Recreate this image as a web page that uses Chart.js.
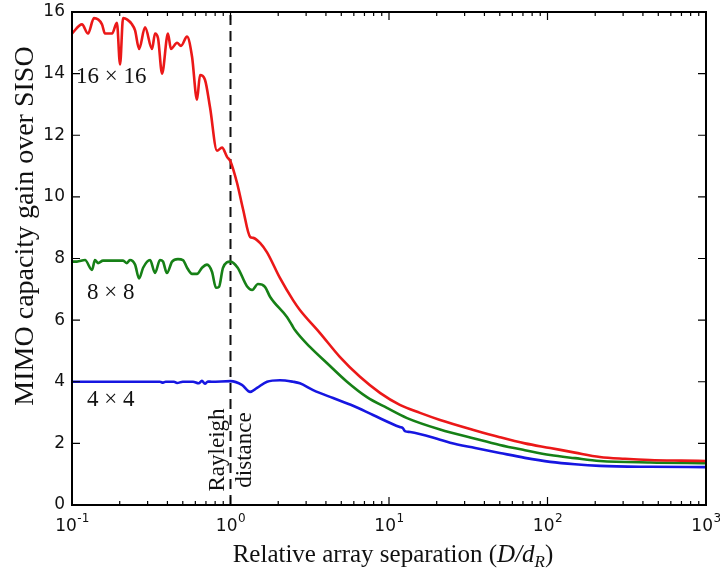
<!DOCTYPE html>
<html>
<head>
<meta charset="utf-8">
<script src="https://cdn.jsdelivr.net/npm/chart.js@4"></script>
<style>
  html, body { margin: 0; padding: 0; background: #fff; }
</style>
</head>
<body>
<canvas id="chart" width="720" height="572"></canvas>
<script>
// values
const redX = [0.1, 0.1156, 0.1262, 0.1376, 0.1546, 0.1615, 0.179, 0.192, 0.201, 0.210, 0.239, 0.250, 0.265, 0.289, 0.320, 0.334, 0.349, 0.370, 0.403, 0.421, 0.460, 0.487, 0.532, 0.572, 0.615, 0.642, 0.690, 0.743, 0.822, 0.884, 0.951, 1.0, 1.10, 1.20, 1.33, 1.39, 1.54, 1.70, 2.05, 2.48, 2.74, 3.67, 4.91, 6.56, 8.77, 11.7, 15.7, 21, 35, 50, 72, 104, 149, 214, 308, 443, 695, 1000];
const redY = [15.3, 15.6, 15.3, 15.8, 15.6, 15.3, 15.3, 15.65, 14.3, 15.8, 15.6, 15.4, 14.8, 15.5, 14.8, 15.3, 15.15, 14.0, 15.3, 14.8, 15.0, 14.9, 15.2, 14.55, 13.15, 13.95, 13.8, 12.9, 11.5, 11.6, 11.3, 11.15, 10.45, 9.6, 8.7, 8.67, 8.5, 8.2, 7.37, 6.65, 6.33, 5.58, 4.8, 4.16, 3.64, 3.25, 2.99, 2.76, 2.42, 2.2, 2.0, 1.85, 1.7, 1.56, 1.5, 1.46, 1.44, 1.43];

const greenX = [0.1, 0.1075, 0.1208, 0.1337, 0.1396, 0.1459, 0.157, 0.210, 0.222, 0.232, 0.250, 0.265, 0.281, 0.311, 0.334, 0.359, 0.375, 0.397, 0.428, 0.466, 0.501, 0.532, 0.572, 0.615, 0.661, 0.711, 0.764, 0.810, 0.846, 0.897, 1.0, 1.11, 1.27, 1.37, 1.49, 1.65, 1.78, 2.27, 2.44, 2.55, 3.17, 4.07, 5.43, 7.26, 9.7, 13.0, 21, 35, 50, 72, 104, 149, 214, 443, 1000];
const greenY = [7.9, 7.9, 7.95, 7.63, 7.95, 7.85, 7.93, 7.93, 7.85, 7.95, 7.8, 7.35, 7.7, 7.95, 7.53, 7.95, 7.9, 7.53, 7.9, 7.98, 7.95, 7.7, 7.5, 7.5, 7.7, 7.8, 7.57, 7.05, 7.08, 7.7, 7.9, 7.7, 7.1, 6.98, 7.17, 7.08, 6.75, 6.1, 5.84, 5.68, 5.13, 4.6, 4.0, 3.5, 3.15, 2.82, 2.45, 2.15, 1.95, 1.78, 1.62, 1.52, 1.43, 1.38, 1.36];

const blueX = [0.1, 0.3, 0.359, 0.375, 0.39, 0.44, 0.46, 0.5, 0.58, 0.63, 0.66, 0.69, 0.72, 0.76, 1.0, 1.18, 1.33, 1.47, 1.70, 2.05, 2.48, 2.74, 3.32, 4.44, 5.93, 7.93, 11.7, 12.2, 12.6, 13.6, 21, 24.3, 35, 50, 72, 104, 149, 214, 443, 1000];
const blueY = [4.0, 4.0, 4.0, 3.97, 4.0, 4.0, 3.96, 4.0, 4.0, 3.95, 4.03, 3.94, 4.01, 4.0, 4.02, 3.9, 3.67, 3.8, 4.0, 4.05, 4.0, 3.95, 3.73, 3.47, 3.22, 2.92, 2.53, 2.5, 2.4, 2.37, 2.12, 2.02, 1.85, 1.69, 1.53, 1.4, 1.32, 1.27, 1.24, 1.23];

const rayleighX = [1, 1];
const rayleighY = [0, 16];

const yTicks = [0, 2, 4, 6, 8, 10, 12, 14, 16];
const xTickExps = [-1, 0, 1, 2, 3];
const seriesLabels = ['16 \u00d7 16', '8 \u00d7 8', '4 \u00d7 4'];

function pts(xs, ys) {
  return xs.map((x, i) => ({ x: x, y: ys[i] }));
}

const SERIF = '"Liberation Serif", "Times New Roman", serif';
const SANS = '"DejaVu Sans", sans-serif';

// axes, ticks and text drawn matplotlib-style on top of the plot
const decorations = {
  id: 'decorations',
  afterDatasetsDraw(chart) {
    const ctx = chart.ctx;
    const a = chart.chartArea;
    const xs = chart.scales.x, ys = chart.scales.y;
    ctx.save();
    ctx.strokeStyle = '#000';
    ctx.fillStyle = '#111';

    // inward ticks
    ctx.lineWidth = 1.2;
    ctx.beginPath();
    yTicks.forEach(v => {
      const p = ys.getPixelForValue(v);
      ctx.moveTo(a.left, p); ctx.lineTo(a.left + 8, p);
      ctx.moveTo(a.right, p); ctx.lineTo(a.right - 8, p);
    });
    for (let k = xTickExps[0]; k < xTickExps[xTickExps.length - 1]; k++) {
      for (let m = 1; m <= 9; m++) {
        const p = xs.getPixelForValue(m * Math.pow(10, k));
        const len = m === 1 ? 8 : 4;
        ctx.moveTo(p, a.bottom); ctx.lineTo(p, a.bottom - len);
        ctx.moveTo(p, a.top); ctx.lineTo(p, a.top + len);
      }
    }
    ctx.stroke();

    // frame
    ctx.lineWidth = 2;
    ctx.strokeRect(a.left, a.top, a.right - a.left, a.bottom - a.top);

    // y tick labels
    ctx.font = '17px ' + SANS;
    ctx.textAlign = 'right';
    ctx.textBaseline = 'middle';
    yTicks.forEach(v => ctx.fillText(String(v), a.left - 7, ys.getPixelForValue(v)));

    // x tick labels 10^k
    ctx.textBaseline = 'alphabetic';
    ctx.textAlign = 'left';
    xTickExps.forEach(k => {
      const p = xs.getPixelForValue(Math.pow(10, k));
      ctx.font = '17px ' + SANS;
      const wb = ctx.measureText('10').width;
      ctx.font = '12px ' + SANS;
      const sup = String(k);
      const ws = ctx.measureText(sup).width;
      const x0 = p - (wb + ws) / 2;
      ctx.font = '17px ' + SANS;
      ctx.fillText('10', x0, a.bottom + 26);
      ctx.font = '12px ' + SANS;
      ctx.fillText(sup, x0 + wb + 0.5, a.bottom + 17);
    });

    // x axis title with italic D/d_R
    const pieces = [
      { t: 'Relative array separation (', f: '25px ' + SERIF, dy: 0 },
      { t: 'D/d', f: 'italic 25px ' + SERIF, dy: 0 },
      { t: 'R', f: 'italic 17px ' + SERIF, dy: 5 },
      { t: ')', f: '25px ' + SERIF, dy: 0 }
    ];
    let total = 0;
    pieces.forEach(pc => { ctx.font = pc.f; pc.w = ctx.measureText(pc.t).width; total += pc.w; });
    let cx = (a.left + a.right) / 2 - total / 2 + 4;
    pieces.forEach(pc => { ctx.font = pc.f; ctx.fillText(pc.t, cx, 562 + pc.dy); cx += pc.w; });

    // y axis title
    ctx.save();
    ctx.translate(33, 226);
    ctx.rotate(-Math.PI / 2);
    ctx.textAlign = 'center';
    ctx.font = '28px ' + SERIF;
    ctx.fillText('MIMO capacity gain over SISO', 0, 0);
    ctx.restore();

    // series labels
    ctx.font = '23px ' + SERIF;
    ctx.textAlign = 'left';
    ctx.textBaseline = 'middle';
    ctx.fillText(seriesLabels[0], 76, 77);
    ctx.fillText(seriesLabels[1], 87, 293);
    ctx.fillText(seriesLabels[2], 87, 400);

    // Rayleigh distance annotation
    const rx = xs.getPixelForValue(1);
    ctx.save();
    ctx.translate(rx, 450);
    ctx.rotate(-Math.PI / 2);
    ctx.textAlign = 'center';
    ctx.fillText('Rayleigh', 0, -13);
    ctx.fillText('distance', 0, 14);
    ctx.restore();

    ctx.restore();
  }
};

function lineSet(data, color) {
  return {
    data: data,
    borderColor: color,
    borderWidth: 2.6,
    pointRadius: 0,
    fill: false,
    cubicInterpolationMode: 'monotone'
  };
}

new Chart(document.getElementById('chart'), {
  type: 'line',
  data: {
    datasets: [
      lineSet(pts(redX, redY), 'rgb(235, 24, 24)'),
      lineSet(pts(greenX, greenY), 'rgb(22, 128, 22)'),
      lineSet(pts(blueX, blueY), 'rgb(22, 22, 225)'),
      {
        data: pts(rayleighX, rayleighY),
        borderColor: '#111',
        borderWidth: 2,
        borderDash: [10, 6],
        pointRadius: 0,
        fill: false
      }
    ]
  },
  options: {
    responsive: false,
    animation: false,
    devicePixelRatio: 1,
    layout: { padding: { left: 72, right: 14, top: 12, bottom: 67 } },
    plugins: { legend: { display: false }, tooltip: { enabled: false } },
    scales: {
      x: { type: 'logarithmic', min: 0.1, max: 1000, display: false },
      y: { type: 'linear', min: 0, max: 16, display: false }
    }
  },
  plugins: [decorations]
});
</script>
</body>
</html>
